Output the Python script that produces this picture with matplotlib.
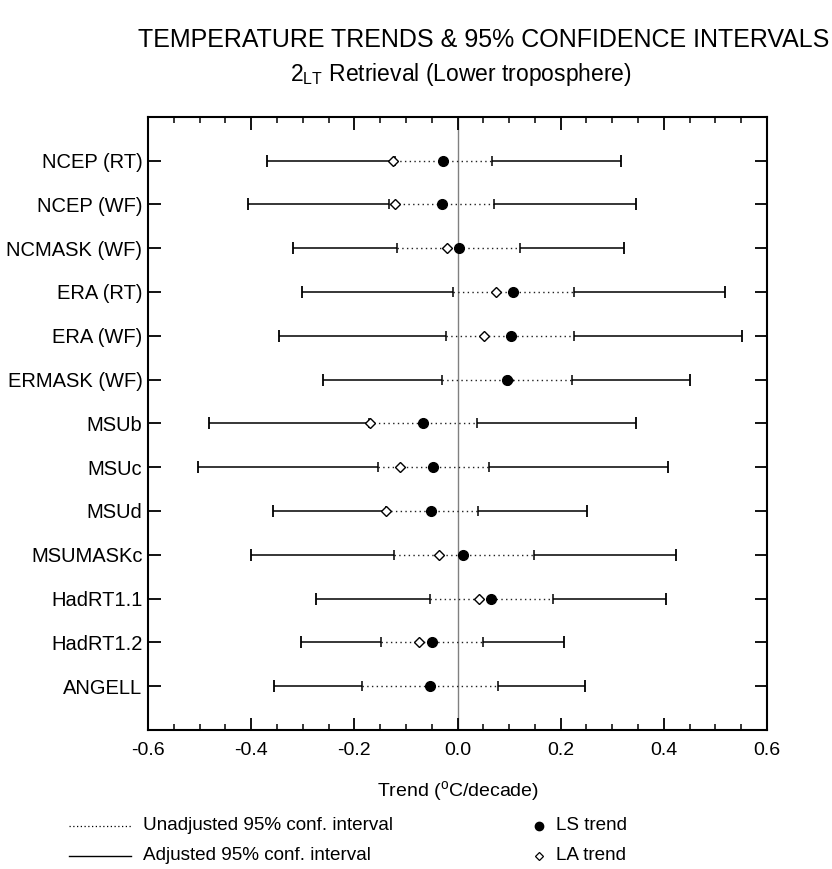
import numpy as np
import matplotlib
matplotlib.use("Agg")
import matplotlib.pyplot as plt
from matplotlib.lines import Line2D

plt.rcParams['font.family'] = ['Liberation Sans', 'DejaVu Sans']
plt.rcParams['mathtext.fontset'] = 'custom'
plt.rcParams['mathtext.rm'] = 'Liberation Sans'
plt.rcParams['axes.unicode_minus'] = False

# trend estimates and 95% intervals, deg C per decade
labels = ["NCEP (RT)", "NCEP (WF)", "NCMASK (WF)", "ERA (RT)", "ERA (WF)",
          "ERMASK (WF)", "MSUb", "MSUc", "MSUd", "MSUMASKc",
          "HadRT1.1", "HadRT1.2", "ANGELL"]
ls_trend = [-0.028, -0.031, 0.002, 0.108, 0.103, 0.095, -0.067, -0.047,
            -0.052, 0.011, 0.065, -0.049, -0.053]
la_trend = [-0.126, -0.121, -0.020, 0.074, 0.052, 0.098, -0.170, -0.112,
            -0.138, -0.036, 0.041, -0.075, np.nan]
unadj_lo = [-0.122, -0.133, -0.117, -0.008, -0.023, -0.031, -0.172, -0.155,
            -0.138, -0.123, -0.054, -0.148, -0.185]
unadj_hi = [0.066, 0.070, 0.121, 0.226, 0.226, 0.221, 0.038, 0.061,
            0.040, 0.148, 0.185, 0.050, 0.079]
adj_lo = [-0.370, -0.406, -0.319, -0.302, -0.346, -0.261, -0.482, -0.503,
          -0.357, -0.401, -0.274, -0.303, -0.355]
adj_hi = [0.316, 0.346, 0.322, 0.519, 0.552, 0.450, 0.346, 0.408,
          0.251, 0.424, 0.405, 0.206, 0.247]

xticks = [-0.6, -0.4, -0.2, 0.0, 0.2, 0.4, 0.6]

fig = plt.figure(figsize=(8.32, 8.69), dpi=100)
ax = fig.add_axes([0.1779, 0.1600, 0.7440, 0.7057])

y = np.arange(len(labels))

ax.axvline(0, color="#808080", lw=1.0, zorder=1)

# adjusted interval: solid outer pieces
ax.hlines(y, adj_lo, unadj_lo, color="black", lw=1.1, zorder=2)
ax.hlines(y, unadj_hi, adj_hi, color="black", lw=1.1, zorder=2)
# unadjusted interval: dotted middle piece
ax.hlines(y, unadj_lo, unadj_hi, color="#202020", lw=1.0,
          linestyles=(0, (1, 2.4)), zorder=2)

# end caps
ax.plot(adj_lo, y, "|", color="black", ms=9, mew=1.3, zorder=3)
ax.plot(adj_hi, y, "|", color="black", ms=9, mew=1.3, zorder=3)
ax.plot(unadj_lo, y, "|", color="black", ms=7, mew=1.1, zorder=3)
ax.plot(unadj_hi, y, "|", color="black", ms=7, mew=1.1, zorder=3)

# trend markers
ax.plot(la_trend, y, "D", ms=5, mfc="white", mec="black", mew=1.0,
        ls="none", zorder=4)
ax.plot(ls_trend, y, "o", ms=7, color="black", ls="none", zorder=5)

ax.set_xlim(-0.6, 0.6)
ax.set_ylim(len(labels), -1)
ax.set_xticks(xticks)
ax.set_xticklabels([f"{v:.1f}" for v in xticks])
ax.set_xticks(np.arange(-0.6, 0.61, 0.05), minor=True)
ax.set_yticks(y)
ax.set_yticklabels(labels)

ax.tick_params(axis="x", which="major", direction="in", length=9, width=1.3,
               top=True, labelsize=14, pad=9)
ax.tick_params(axis="x", which="minor", direction="in", length=4.5,
               width=1.1, top=True)
ax.tick_params(axis="y", which="major", direction="in", length=9, width=1.3,
               right=True, labelsize=14.5, pad=4)
for side in ax.spines.values():
    side.set_linewidth(1.5)

ax.set_xlabel("Trend ($^{\\mathrm{o}}$C/decade)", fontsize=14, labelpad=14)

fig.text(0.581, 0.954, "TEMPERATURE TRENDS & 95% CONFIDENCE INTERVALS",
         ha="center", va="center", fontsize=18)
fig.text(0.554, 0.914, "2$_{\\mathrm{LT}}$ Retrieval (Lower troposphere)",
         ha="center", va="center", fontsize=16.5)

# key below the axes
def key_line(x0, x1, yy, **kw):
    fig.add_artist(Line2D([x0, x1], [yy, yy], transform=fig.transFigure,
                          color="black", **kw))

key_line(0.083, 0.157, 1 - 826 / 869, lw=0.9, ls=(0, (1, 2)))
key_line(0.083, 0.157, 1 - 856 / 869, lw=1.0)
fig.text(0.172, 1 - 826 / 869, "Unadjusted 95% conf. interval",
         va="center", fontsize=13.6)
fig.text(0.172, 1 - 856 / 869, "Adjusted 95% conf. interval",
         va="center", fontsize=13.6)
fig.add_artist(Line2D([0.648], [1 - 826 / 869], transform=fig.transFigure,
                      marker="o", ms=6, color="black", ls="none"))
fig.add_artist(Line2D([0.648], [1 - 856 / 869], transform=fig.transFigure,
                      marker="D", ms=4.2, mfc="white", mec="black", mew=0.9,
                      ls="none"))
fig.text(0.668, 1 - 826 / 869, "LS trend", va="center", fontsize=13.6)
fig.text(0.668, 1 - 856 / 869, "LA trend", va="center", fontsize=13.6)

fig.savefig("out.png", dpi=100)
